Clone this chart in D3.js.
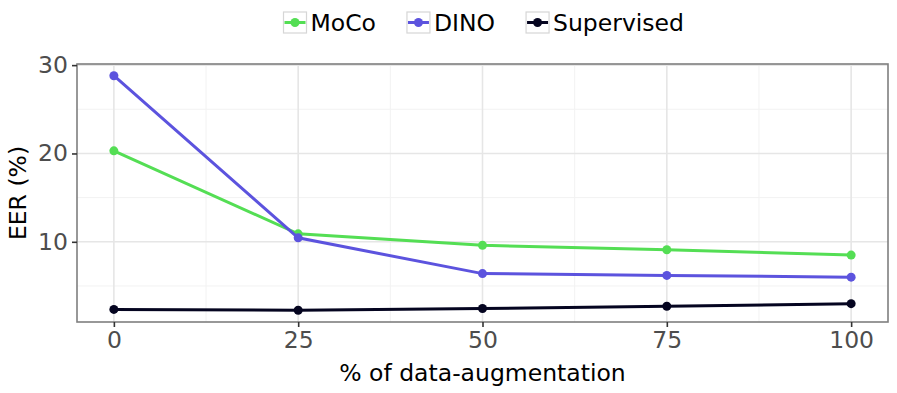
<!DOCTYPE html>
<html>
<head>
<meta charset="utf-8">
<script src="https://cdn.jsdelivr.net/npm/d3@7"></script>
<style>
  body { margin: 0; background: #fff; }
  text { font-family: "DejaVu Sans", sans-serif; }
</style>
</head>
<body>
<svg id="chart" width="897" height="393"></svg>
<script>
var augment = [0, 25, 50, 75, 100];
var moco = [20.3, 10.9, 9.6, 9.1, 8.5];
var dino = [28.8, 10.45, 6.4, 6.2, 6.0];
var supervised = [2.35, 2.25, 2.45, 2.7, 3.0];
var seriesNames = ["MoCo", "DINO", "Supervised"];
var seriesColors = ["#54de54", "#5c53de", "#050520"];
var xTicks = [0, 25, 50, 75, 100];
var yTicks = [10, 20, 30];

var series = [moco, dino, supervised].map(function(vals, i) {
  return {
    name: seriesNames[i],
    color: seriesColors[i],
    values: vals.map(function(v, j) { return [augment[j], v]; })
  };
});

var margin = { top: 64, right: 9, bottom: 71, left: 77 },
  width = 897,
  height = 393,
  fontSize = "23.5px";

var svg = d3.select("#chart");

// ggplot style expansion of 5% on each side
var xScale = d3.scaleLinear().domain([-5, 105])
  .range([margin.left, width - margin.right]);
var yMin = d3.min(series, function(s) { return d3.min(s.values, function(d) { return d[1]; }); });
var yMax = d3.max(series, function(s) { return d3.max(s.values, function(d) { return d[1]; }); });
var pad = (yMax - yMin) * 0.05;
var yScale = d3.scaleLinear().domain([yMin - pad, yMax + pad])
  .range([height - margin.bottom, margin.top]);

var x0 = margin.left, x1 = width - margin.right;
var y0 = height - margin.bottom, y1 = margin.top;

// minor grid
var xMinor = [12.5, 37.5, 62.5, 87.5];
var yMinor = [5, 15, 25];
svg.append("g").selectAll("line").data(xMinor).join("line")
  .attr("x1", xScale).attr("x2", xScale).attr("y1", y0).attr("y2", y1)
  .attr("stroke", "#f2f2f2").attr("stroke-width", 1);
svg.append("g").selectAll("line").data(yMinor).join("line")
  .attr("x1", x0).attr("x2", x1).attr("y1", yScale).attr("y2", yScale)
  .attr("stroke", "#f2f2f2").attr("stroke-width", 1);

// major grid
svg.append("g").selectAll("line").data(xTicks).join("line")
  .attr("x1", xScale).attr("x2", xScale).attr("y1", y0).attr("y2", y1)
  .attr("stroke", "#e6e6e6").attr("stroke-width", 1.6);
svg.append("g").selectAll("line").data(yTicks).join("line")
  .attr("x1", x0).attr("x2", x1).attr("y1", yScale).attr("y2", yScale)
  .attr("stroke", "#e6e6e6").attr("stroke-width", 1.6);

// lines and points
var line = d3.line()
  .x(function(d) { return xScale(d[0]); })
  .y(function(d) { return yScale(d[1]); });

var g = svg.append("g");
series.forEach(function(s) {
  g.append("path")
    .attr("d", line(s.values))
    .attr("fill", "none")
    .attr("stroke", s.color)
    .attr("stroke-width", 3);
  g.selectAll(null).data(s.values).join("circle")
    .attr("cx", function(d) { return xScale(d[0]); })
    .attr("cy", function(d) { return yScale(d[1]); })
    .attr("r", 4.5)
    .attr("fill", s.color);
});

// panel border
svg.append("rect")
  .attr("x", x0).attr("y", y1)
  .attr("width", x1 - x0).attr("height", y0 - y1)
  .attr("fill", "none").attr("stroke", "#7f7f7f").attr("stroke-width", 1.6);

// axes
var xAxis = d3.axisBottom(xScale).tickValues(xTicks).tickSize(5).tickPadding(4);
var yAxis = d3.axisLeft(yScale).tickValues(yTicks).tickSize(5).tickPadding(4);

var gx = svg.append("g").attr("transform", "translate(0," + y0 + ")").call(xAxis);
var gy = svg.append("g").attr("transform", "translate(" + x0 + ",0)").call(yAxis);
[gx, gy].forEach(function(a) {
  a.select(".domain").remove();
  a.selectAll(".tick line").attr("stroke", "#333").attr("stroke-width", 1.6);
  a.selectAll(".tick text").attr("fill", "#4d4d4d")
    .style("font-size", fontSize).style("font-family", "DejaVu Sans, sans-serif");
});

// axis titles
svg.append("text")
  .attr("x", (x0 + x1) / 2).attr("y", 381)
  .attr("text-anchor", "middle")
  .style("font-size", fontSize)
  .text("% of data-augmentation");
svg.append("text")
  .attr("transform", "translate(26," + ((y0 + y1) / 2) + ") rotate(-90)")
  .attr("text-anchor", "middle")
  .style("font-size", fontSize)
  .text("EER (%)");

// legend
var legend = svg.append("g");
var lx = 283.5;
series.forEach(function(s) {
  var item = legend.append("g").attr("transform", "translate(" + lx + ",12)");
  item.append("rect").attr("width", 23).attr("height", 21)
    .attr("fill", "#fff").attr("stroke", "#d6d6d6").attr("stroke-width", 1.2);
  item.append("line").attr("x1", 1).attr("x2", 22).attr("y1", 10.5).attr("y2", 10.5)
    .attr("stroke", s.color).attr("stroke-width", 3);
  item.append("circle").attr("cx", 11.5).attr("cy", 10.5).attr("r", 4.5).attr("fill", s.color);
  var t = item.append("text").attr("x", 27).attr("y", 19)
    .style("font-size", fontSize).text(s.name);
  lx += 27 + t.node().getComputedTextLength() + 31;
});
</script>
</body>
</html>
